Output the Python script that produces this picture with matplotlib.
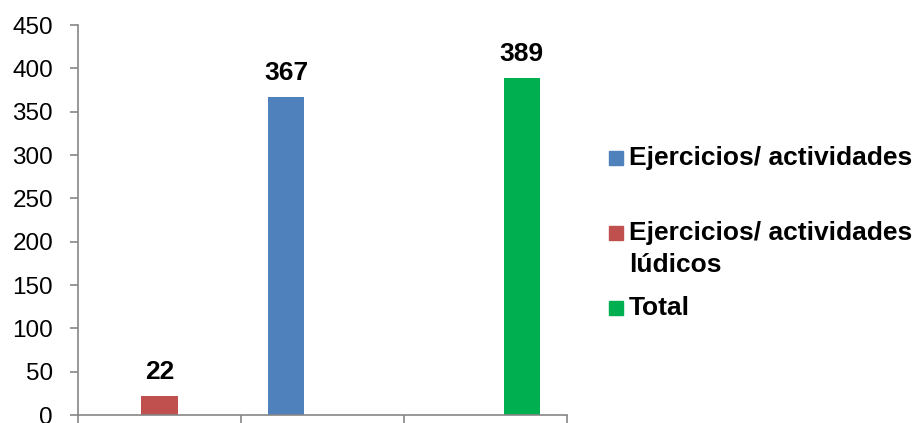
import matplotlib
matplotlib.use("Agg")
import matplotlib.pyplot as plt
from matplotlib.patches import Rectangle
import numpy as np

plt.rcParams['font.family'] = ['Liberation Sans', 'DejaVu Sans']

categories = ["1", "2", "3"]
series_names = ["Ejercicios/ actividades", "Ejercicios/ actividades\nlúdicos", "Total"]
series_values = [
    [0, 367, 0],
    [22, 0, 0],
    [0, 0, 389],
]
colors = ["#4F81BD", "#C0504D", "#00B050"]
yticks = [0, 50, 100, 150, 200, 250, 300, 350, 400, 450]

fig = plt.figure(figsize=(9.17, 4.23), dpi=100)
ax = fig.add_axes([78/917, 8/423, (567-78)/917, (415-25)/423])

x = np.arange(len(categories))
w = 0.222
offsets = [-w, 0, w]
for vals, off, c in zip(series_values, offsets, colors):
    bars = ax.bar(x + off, vals, width=w, color=c)
    for b, v in zip(bars, vals):
        if v:
            ax.annotate(str(v), (b.get_x() + b.get_width()/2, v),
                        xytext=(0, 12.5), textcoords='offset points',
                        ha='center', va='baseline', fontsize=19, fontweight='bold')

ax.set_xlim(-0.5, 2.5)
ax.set_ylim(0, 450)
ax.set_yticks(yticks)
ax.set_xticks(np.arange(len(categories) + 1) - 0.5)
ax.set_xticklabels([])
for s in ['top', 'right']:
    ax.spines[s].set_visible(False)
for s in ['left', 'bottom']:
    ax.spines[s].set_color('#868686')
    ax.spines[s].set_linewidth(1.2)
ax.tick_params(axis='y', length=6, width=1.2, color='#868686', labelsize=17.5, pad=12)
ax.tick_params(axis='x', length=6, width=1.2, color='#868686')

# legend (manual placement, baselines in pixels from top)
baselines = [165, 240, 315]
line_step = 31.7
for name, c, yb in zip(series_names, colors, baselines):
    fig.patches.append(Rectangle((609/917, 1 - yb/423), 14/917, 14/423,
                                 transform=fig.transFigure, color=c))
    for i, line in enumerate(name.split('\n')):
        fig.text(629/917, 1 - (yb + i*line_step)/423, line, fontsize=19,
                 fontweight='bold', ha='left', va='baseline',
                 transform=fig.transFigure)

fig.savefig("out.png", dpi=100)
